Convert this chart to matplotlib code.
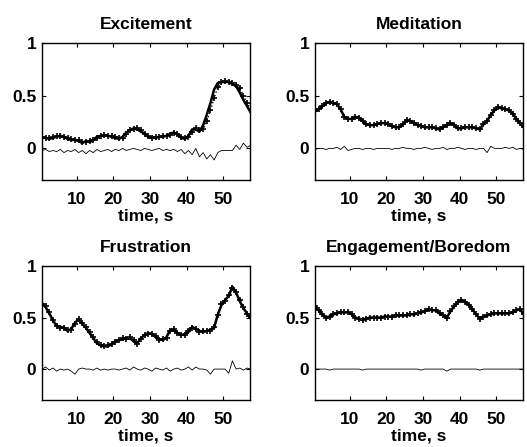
import matplotlib
matplotlib.use("Agg")
import matplotlib.pyplot as plt
import numpy as np

plt.rcParams['font.family'] = ['Liberation Sans', 'DejaVu Sans']
plt.rcParams['font.weight'] = 'bold'

# time axis, one sample per second
time = np.arange(0.5, 58, 1.0)

titles = ["Excitement", "Meditation", "Frustration", "Engagement/Boredom"]

excitement = [0.10, 0.10, 0.09, 0.10, 0.11, 0.12, 0.11, 0.09, 0.08, 0.08,
              0.07, 0.05, 0.07, 0.06, 0.08, 0.11, 0.12, 0.12, 0.12, 0.11,
              0.10, 0.09, 0.11, 0.15, 0.17, 0.19, 0.18, 0.16, 0.14, 0.11,
              0.10, 0.10, 0.11, 0.11, 0.12, 0.14, 0.15, 0.13, 0.10, 0.09,
              0.12, 0.18, 0.18, 0.16, 0.22, 0.32, 0.43, 0.56, 0.62, 0.63,
              0.63, 0.63, 0.61, 0.59, 0.53, 0.46, 0.40, 0.34]
excitement_pred = [0.11, 0.10, 0.10, 0.11, 0.12, 0.12, 0.11, 0.10, 0.09, 0.08,
                   0.08, 0.06, 0.06, 0.07, 0.08, 0.10, 0.12, 0.13, 0.12, 0.12,
                   0.11, 0.10, 0.10, 0.14, 0.17, 0.18, 0.19, 0.17, 0.14, 0.12,
                   0.10, 0.11, 0.11, 0.12, 0.12, 0.13, 0.15, 0.14, 0.11, 0.10,
                   0.11, 0.16, 0.19, 0.17, 0.18, 0.26, 0.36, 0.48, 0.58, 0.63,
                   0.64, 0.63, 0.62, 0.60, 0.57, 0.50, 0.43, 0.37]
excitement_res = [-0.02, -0.01, -0.03, -0.02, -0.03, -0.01, -0.04, -0.02, -0.03, -0.01,
                  -0.04, -0.02, -0.05, -0.02, -0.04, -0.01, -0.03, -0.02, -0.01, -0.03,
                  -0.01, -0.02, 0.00, -0.02, -0.01, 0.00, -0.01, -0.02, 0.00, -0.01,
                  -0.02, -0.01, 0.00, -0.02, -0.01, -0.02, -0.01, -0.03, -0.01, -0.05,
                  -0.02, -0.06, 0.00, -0.08, -0.04, -0.10, -0.06, -0.11, -0.04, -0.02,
                  -0.02, -0.02, -0.02, 0.03, -0.01, 0.05, 0.01, 0.03]

meditation = [0.35, 0.37, 0.40, 0.43, 0.44, 0.43, 0.42, 0.37, 0.30, 0.28,
              0.28, 0.30, 0.29, 0.26, 0.23, 0.22, 0.22, 0.23, 0.24, 0.24,
              0.23, 0.21, 0.20, 0.20, 0.23, 0.27, 0.26, 0.24, 0.22, 0.21,
              0.20, 0.20, 0.20, 0.19, 0.18, 0.20, 0.22, 0.24, 0.22, 0.19,
              0.19, 0.20, 0.20, 0.20, 0.19, 0.18, 0.23, 0.26, 0.32, 0.36,
              0.39, 0.38, 0.37, 0.36, 0.33, 0.28, 0.24, 0.20]
meditation_res = [-0.01, 0.00, 0.00, -0.01, 0.00, 0.00, 0.01, -0.01, 0.02, -0.02,
                  -0.01, 0.00, 0.00, -0.01, 0.00, 0.00, -0.01, 0.00, 0.00, 0.00,
                  0.00, -0.01, 0.00, 0.00, 0.01, 0.00, 0.00, -0.01, 0.00, 0.00,
                  0.01, 0.00, -0.01, 0.00, 0.00, 0.01, -0.01, 0.00, 0.00, 0.01,
                  0.00, -0.01, 0.00, 0.00, -0.01, 0.00, 0.00, -0.04, 0.02, 0.00,
                  0.00, 0.00, 0.01, 0.00, 0.01, -0.01, 0.00, -0.01]

frustration = [0.64, 0.60, 0.54, 0.47, 0.42, 0.41, 0.40, 0.37, 0.39, 0.45,
               0.48, 0.44, 0.40, 0.35, 0.30, 0.25, 0.23, 0.22, 0.22, 0.24,
               0.27, 0.28, 0.29, 0.30, 0.30, 0.27, 0.25, 0.30, 0.33, 0.35,
               0.34, 0.31, 0.29, 0.28, 0.31, 0.38, 0.38, 0.35, 0.33, 0.34,
               0.36, 0.41, 0.39, 0.37, 0.36, 0.37, 0.38, 0.40, 0.53, 0.62,
               0.67, 0.71, 0.80, 0.74, 0.66, 0.59, 0.54, 0.49]
frustration_pred = [0.63, 0.61, 0.55, 0.48, 0.42, 0.40, 0.40, 0.38, 0.38, 0.44,
                    0.49, 0.45, 0.41, 0.36, 0.31, 0.26, 0.23, 0.22, 0.23, 0.24,
                    0.26, 0.28, 0.30, 0.29, 0.31, 0.28, 0.24, 0.29, 0.33, 0.34,
                    0.34, 0.32, 0.28, 0.29, 0.30, 0.37, 0.39, 0.35, 0.33, 0.33,
                    0.37, 0.40, 0.39, 0.36, 0.37, 0.37, 0.37, 0.41, 0.52, 0.63,
                    0.66, 0.72, 0.79, 0.75, 0.67, 0.60, 0.53, 0.50]
frustration_res = [0.00, 0.02, -0.01, 0.01, -0.02, 0.00, -0.01, 0.00, -0.02, -0.05,
                   0.00, 0.01, 0.00, 0.00, -0.01, 0.01, -0.01, 0.00, -0.01, 0.00,
                   0.00, -0.01, 0.00, 0.01, -0.01, 0.02, 0.00, -0.01, 0.01, 0.00,
                   -0.02, 0.01, 0.00, -0.01, 0.01, -0.02, 0.00, 0.01, -0.01, 0.00,
                   0.02, -0.01, 0.02, 0.00, 0.00, -0.01, -0.05, 0.00, 0.00, 0.00,
                   0.00, -0.04, 0.08, 0.00, 0.01, -0.01, 0.01, 0.00]

engagement = [0.61, 0.57, 0.53, 0.50, 0.51, 0.53, 0.54, 0.55, 0.55, 0.55,
              0.53, 0.50, 0.49, 0.48, 0.49, 0.50, 0.50, 0.50, 0.50, 0.51,
              0.51, 0.51, 0.52, 0.52, 0.52, 0.52, 0.53, 0.53, 0.54, 0.55,
              0.56, 0.58, 0.57, 0.57, 0.54, 0.52, 0.50, 0.56, 0.61, 0.65,
              0.67, 0.65, 0.62, 0.58, 0.53, 0.49, 0.51, 0.52, 0.53, 0.54,
              0.54, 0.54, 0.54, 0.54, 0.55, 0.57, 0.58, 0.53]
engagement_res = [0.00, 0.00, 0.00, 0.00, -0.01, 0.00, 0.00, 0.00, 0.00, 0.00,
                  0.00, 0.00, 0.00, -0.01, 0.00, 0.00, 0.00, 0.00, 0.00, 0.00,
                  0.00, 0.00, 0.00, 0.00, 0.00, 0.00, 0.00, 0.00, 0.00, -0.01,
                  0.00, 0.00, 0.00, 0.00, 0.00, 0.00, -0.02, 0.00, 0.00, 0.00,
                  0.00, 0.00, 0.00, 0.00, 0.00, -0.01, 0.00, 0.00, 0.00, 0.00,
                  0.00, 0.00, 0.00, 0.00, 0.00, 0.00, 0.00, 0.00]

measured = [excitement, meditation, frustration, engagement]
# model output; for meditation and engagement it sits on the measured curve
predicted = [excitement_pred, meditation, frustration_pred, engagement]
residuals = [excitement_res, meditation_res, frustration_res, engagement_res]

fig = plt.figure(figsize=(5.27, 4.47), dpi=100)
W, H = 527, 447
boxes = [(42, 43, 250, 180), (315, 43, 523, 180),
         (42, 266, 250, 400), (315, 266, 523, 400)]

for k in range(4):
    x0, y0, x1, y1 = boxes[k]
    ax = fig.add_axes([x0 / W, 1 - y1 / H, (x1 - x0) / W, (y1 - y0) / H])
    ax.plot(time, measured[k], color='k', lw=1.8)
    ax.plot(time, predicted[k], color='k', lw=1.0, ls=':', marker='+', ms=4.5, mew=1.2)
    ax.plot(time, residuals[k], color='k', lw=0.6)
    ax.set_xlim(0.5, 57.3)
    ax.set_ylim(-0.3, 1)
    ax.set_xticks([10, 20, 30, 40, 50])
    ax.set_yticks([0, 0.5, 1])
    ax.set_yticklabels(['0', '0.5', '1'])
    ax.tick_params(direction='in', length=3, width=0.8, top=True, right=True,
                   labelsize=12.5)
    ax.tick_params(axis='x', pad=9)
    ax.tick_params(axis='y', pad=4)
    for lab in ax.get_xticklabels() + ax.get_yticklabels():
        lab.set_fontweight('bold')
    for s in ax.spines.values():
        s.set_linewidth(1.0)
    ax.set_title(titles[k], fontsize=12.5, fontweight='bold', pad=10)
    ax.set_xlabel("time, s", fontsize=12.5, fontweight='bold', labelpad=1)

fig.savefig("out.png", dpi=100)
